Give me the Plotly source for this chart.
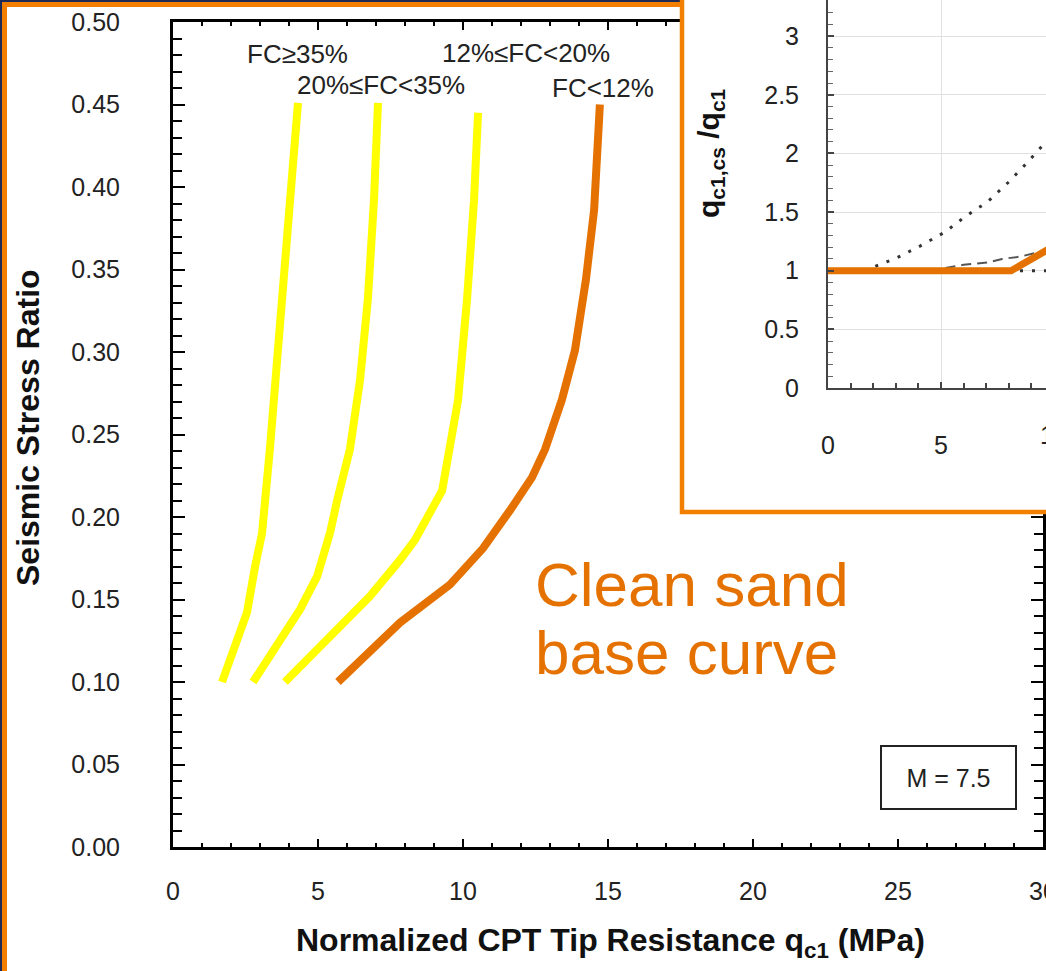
import plotly.graph_objects as go

W, H = 1046, 971

def pxx(p):
    return p / W

def pxy(p):
    return 1 - p / H

# ---------------- data (main chart) ----------------
fc35_x = [1.69, 2.21, 2.55, 2.83, 3.07, 3.34, 3.62, 3.93, 4.14, 4.31]
fc35_y = [0.100, 0.125, 0.142, 0.170, 0.190, 0.241, 0.301, 0.362, 0.412, 0.451]

fc20_35_x = [2.76, 4.14, 4.38, 4.97, 5.41, 5.66, 6.10, 6.45, 6.72, 6.93, 7.07]
fc20_35_y = [0.100, 0.138, 0.144, 0.164, 0.190, 0.210, 0.241, 0.283, 0.332, 0.392, 0.451]

fc12_20_x = [3.86, 5.66, 6.79, 7.83, 8.34, 9.28, 9.83, 10.14, 10.38, 10.52]
fc12_20_y = [0.100, 0.133, 0.152, 0.174, 0.186, 0.216, 0.271, 0.332, 0.392, 0.445]

fc12_x = [5.69, 6.79, 7.83, 9.55, 10.69, 11.62, 12.38, 12.83, 13.41, 13.86, 14.24, 14.52, 14.66, 14.72]
fc12_y = [0.100, 0.119, 0.136, 0.159, 0.181, 0.204, 0.224, 0.241, 0.271, 0.301, 0.344, 0.386, 0.422, 0.450]

curve_labels = ["FC≥35%", "20%≤FC&lt;35%", "12%≤FC&lt;20%", "FC&lt;12%"]
label_x = [4.28, 7.17, 12.17, 14.83]
label_y = [0.4806, 0.4618, 0.4812, 0.460]

x_ticks = [0, 5, 10, 15, 20, 25, 30]
y_ticks = [0.00, 0.05, 0.10, 0.15, 0.20, 0.25, 0.30, 0.35, 0.40, 0.45, 0.50]

# ---------------- data (inset) ----------------
base_x = [0, 8.1, 10.0]
base_y = [1.0, 1.0, 1.21]

dot_x = [1.6, 3.05, 4.07, 5.18, 6.06, 7.08, 7.96, 8.81, 9.6]
dot_y = [1.0, 1.11, 1.21, 1.33, 1.46, 1.59, 1.75, 1.92, 2.09]

dash_x = [4.5, 5.3, 6.0, 7.1, 7.7, 8.5, 9.1, 9.6]
dash_y = [1.0, 1.03, 1.05, 1.07, 1.10, 1.12, 1.15, 1.17]

flat_x = [0, 9.7]
flat_y = [1.0, 1.0]

inset_x_ticks = [0, 5, 10]
inset_y_ticks = [0, 0.5, 1, 1.5, 2, 2.5, 3]

YELLOW = "#FFFF00"
ORANGE = "#E57200"
BORDER = "#F27F00"
FONT = "Liberation Sans, Arial, sans-serif"

# inset x-axis scale (pixels): x=0 at 828 px, 22.6 px per unit
INSET_X0_PX = 828
INSET_PX_PER_UNIT = 22.6
inset_xmax = (W - INSET_X0_PX) / INSET_PX_PER_UNIT

fig = go.Figure()

# main curves
for xs, ys, col in [(fc35_x, fc35_y, YELLOW), (fc20_35_x, fc20_35_y, YELLOW),
                    (fc12_20_x, fc12_20_y, YELLOW), (fc12_x, fc12_y, ORANGE)]:
    fig.add_trace(go.Scatter(x=xs, y=ys, mode="lines", xaxis="x", yaxis="y",
                             line=dict(color=col, width=8), showlegend=False,
                             hoverinfo="skip"))

# cover subplot (white area behind the inset)
fig.add_trace(go.Scatter(x=[None], y=[None], xaxis="x2", yaxis="y2",
                         showlegend=False, hoverinfo="skip"))

# inset curves
fig.add_trace(go.Scatter(x=flat_x, y=flat_y, mode="lines", xaxis="x3", yaxis="y3",
                         line=dict(color="#333", width=3, dash="3px,9px"),
                         showlegend=False, hoverinfo="skip"))
fig.add_trace(go.Scatter(x=dot_x, y=dot_y, mode="lines", xaxis="x3", yaxis="y3",
                         line=dict(color="#333", width=3, dash="3px,9px"),
                         showlegend=False, hoverinfo="skip"))
fig.add_trace(go.Scatter(x=dash_x, y=dash_y, mode="lines", xaxis="x3", yaxis="y3",
                         line=dict(color="#555", width=2, dash="10px,6px"),
                         showlegend=False, hoverinfo="skip"))
fig.add_trace(go.Scatter(x=base_x, y=base_y, mode="lines", xaxis="x3", yaxis="y3",
                         line=dict(color=ORANGE, width=7),
                         showlegend=False, hoverinfo="skip"))

tickfont = dict(family=FONT, size=25, color="#222")

layout = dict(
    width=W, height=H,
    margin=dict(l=0, r=0, t=0, b=0, autoexpand=False),
    paper_bgcolor="white", plot_bgcolor="white",
    font=dict(family=FONT),
    xaxis=dict(domain=[pxx(173), pxx(1043)], range=[0, 30], anchor="y",
               automargin=False, ticklabeloverflow="allow",
               tickmode="array", tickvals=x_ticks, ticks="inside", ticklen=8,
               tickwidth=2, tickcolor="black", showline=True, linewidth=3,
               linecolor="black", mirror="ticks", showgrid=False, zeroline=False,
               minor=dict(dtick=1, ticks="inside", ticklen=4, tickwidth=2,
                          tickcolor="black"),
               tickfont=tickfont, ticklabelstandoff=20, fixedrange=True),
    yaxis=dict(domain=[pxy(847), pxy(22)], range=[0, 0.5], anchor="x",
               automargin=False, ticklabeloverflow="allow",
               tickmode="array", tickvals=y_ticks, tickformat=".2f",
               ticks="inside", ticklen=12, tickwidth=2, tickcolor="black",
               showline=True, linewidth=3, linecolor="black", mirror="ticks",
               showgrid=False, zeroline=False,
               minor=dict(dtick=0.01, ticks="inside", ticklen=9, tickwidth=2,
                          tickcolor="black"),
               tickfont=tickfont, ticklabelstandoff=45, fixedrange=True),
    xaxis2=dict(domain=[pxx(680), 1], range=[0, 1], anchor="y2", automargin=False,
                showline=False, showgrid=False, zeroline=False,
                showticklabels=False, ticks="", fixedrange=True),
    yaxis2=dict(domain=[pxy(514), 1], range=[0, 1], anchor="x2", automargin=False,
                showline=False, showgrid=False, zeroline=False,
                showticklabels=False, ticks="", fixedrange=True),
    xaxis3=dict(domain=[pxx(INSET_X0_PX), 1], range=[0, inset_xmax], anchor="y3",
                automargin=False, ticklabeloverflow="allow",
                tickmode="array", tickvals=inset_x_ticks, ticks="inside",
                ticklen=6, tickwidth=1.5, tickcolor="#444",
                showline=True, linewidth=2, linecolor="#444",
                showgrid=True, gridcolor="#e0e0e0", gridwidth=1, zeroline=False,
                minor=dict(dtick=1, ticks="inside", ticklen=5, tickwidth=1.5,
                           tickcolor="#444"),
                tickfont=tickfont, ticklabelstandoff=34, fixedrange=True),
    yaxis3=dict(domain=[pxy(388), 1], range=[0, 388 / 117.3], anchor="x3",
                automargin=False, ticklabeloverflow="allow",
                tickmode="array", tickvals=inset_y_ticks, ticks="inside",
                ticklen=6, tickwidth=1.5, tickcolor="#444",
                showline=True, linewidth=2, linecolor="#444",
                showgrid=True, gridcolor="#e0e0e0", gridwidth=1, zeroline=False,
                minor=dict(dtick=0.1, ticks="inside", ticklen=5, tickwidth=1,
                           tickcolor="#666"),
                tickfont=tickfont, ticklabelstandoff=22, fixedrange=True),
)
fig.update_layout(**layout)

ann = []
# axis titles
ann.append(dict(text="<b>Seismic Stress Ratio</b>", x=pxx(28), y=pxy(428),
                xref="paper", yref="paper", textangle=-90, showarrow=False,
                font=dict(family=FONT, size=32, color="#111"),
                xanchor="center", yanchor="middle"))
ann.append(dict(text="<b>Normalized CPT Tip Resistance q<sub>c1</sub> (MPa)</b>",
                x=pxx(610), y=pxy(942), xref="paper", yref="paper",
                showarrow=False, font=dict(family=FONT, size=32, color="#111"),
                xanchor="center", yanchor="middle"))
# curve labels
for t, lx, ly in zip(curve_labels, label_x, label_y):
    ann.append(dict(text=t, x=lx, y=ly, xref="x", yref="y", showarrow=False,
                    font=dict(family=FONT, size=26, color="#222"),
                    xanchor="center", yanchor="middle"))
# magnitude box
ann.append(dict(text="M = 7.5", x=pxx(948), y=pxy(777), xref="paper", yref="paper",
                showarrow=False, font=dict(family=FONT, size=25, color="#222"),
                bordercolor="#222", borderwidth=2, bgcolor="white",
                width=131, height=59, align="center",
                xanchor="center", yanchor="middle"))
# clean sand text
ann.append(dict(text="Clean sand", x=pxx(533), y=pxy(584), xref="paper", yref="paper",
                showarrow=False, font=dict(family=FONT, size=62, color=ORANGE),
                xanchor="left", yanchor="middle"))
ann.append(dict(text="base curve", x=pxx(533), y=pxy(652), xref="paper", yref="paper",
                showarrow=False, font=dict(family=FONT, size=62, color=ORANGE),
                xanchor="left", yanchor="middle"))
# inset y title
ann.append(dict(text="<b>q<sub>c1,cs</sub> /q<sub>c1</sub></b>", x=pxx(711), y=pxy(153),
                xref="paper", yref="paper", textangle=-90, showarrow=False,
                font=dict(family=FONT, size=30, color="#111"),
                xanchor="center", yanchor="middle"))
# inset tick label "10" that sits just past the visible edge of the inset axis
ann.append(dict(text=str(inset_x_ticks[-1]),
                x=pxx(INSET_X0_PX + inset_x_ticks[-1] * INSET_PX_PER_UNIT), y=pxy(435),
                xref="paper", yref="paper", showarrow=False,
                font=tickfont, xanchor="center", yanchor="middle"))
fig.update_layout(annotations=ann)

shapes = [
    # outer frame of the slide
    dict(type="rect", xref="paper", yref="paper", x0=pxx(1), x1=1.2, y0=-0.2, y1=pxy(1),
         line=dict(color="#1F2A55", width=2), layer="below"),
    dict(type="rect", xref="paper", yref="paper", x0=pxx(4.5), x1=1.2, y0=-0.2, y1=pxy(4.5),
         line=dict(color=BORDER, width=5), layer="below"),
    # inset frame
    dict(type="rect", xref="paper", yref="paper", x0=pxx(682), x1=1.2, y0=pxy(512), y1=1.2,
         line=dict(color=BORDER, width=4.5), layer="above"),
]
fig.update_layout(shapes=shapes)

fig.write_html("out.html")
